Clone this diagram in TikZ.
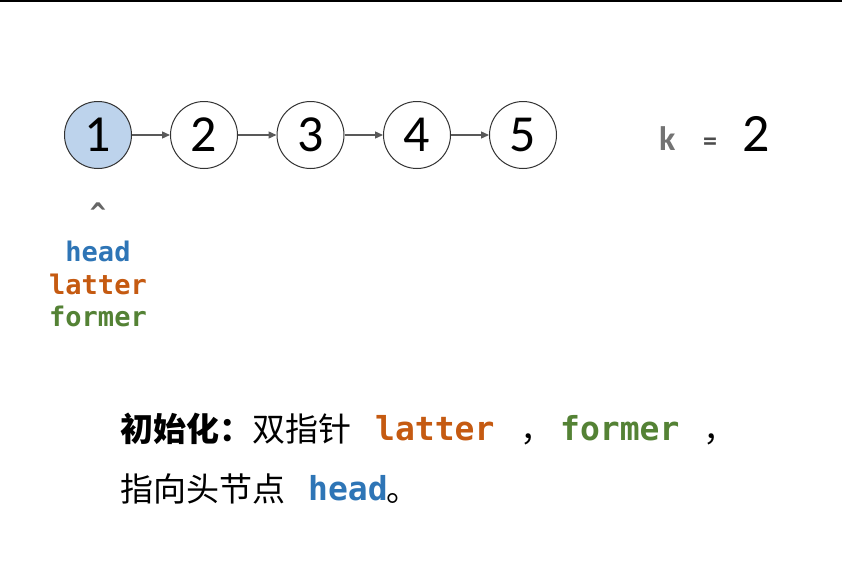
\documentclass[tikz,border=0pt]{standalone}
\usepackage{fontspec}
\setmainfont{Carlito}
\newfontfamily\cjk{Noto Sans CJK SC}
\newfontfamily\monob{DejaVu Sans Mono}
\usetikzlibrary{arrows.meta}
\definecolor{hblue}{HTML}{2E75B6}
\definecolor{lorange}{HTML}{C55A11}
\definecolor{fgreen}{HTML}{548235}
\definecolor{nodefill}{HTML}{BDD3EC}
\definecolor{edgegray}{HTML}{595959}
\tikzset{
  lnode/.style={circle, draw=black!80, line width=1pt, minimum size=67pt, inner sep=0pt, font=\fontsize{52}{52}\selectfont},
  link/.style={draw=edgegray, line width=1.3pt, -{Triangle[length=8pt,width=7pt]}},
  lbl/.style={inner sep=0pt, anchor=base},
  txt/.style={inner sep=0pt, anchor=base west},
  cn/.style={txt, font=\cjk\fontsize{33}{33}\selectfont},
  mono/.style={font=\monob\bfseries\fontsize{27}{27}\selectfont},
  monobig/.style={txt, font=\monob\bfseries\fontsize{33}{33}\selectfont}
}
\begin{document}
\begin{tikzpicture}[x=1pt,y=-1pt]
\useasboundingbox (0,0) rectangle (842,560);
\fill[white] (0,0) rectangle (842,560);
\draw[line width=2pt] (0,1) -- (842,1);
\node[lnode, fill=nodefill] (n1) at (98,135) {1};
\node[lnode] (n2) at (204,135) {2};
\node[lnode] (n3) at (310.5,135) {3};
\node[lnode] (n4) at (417,135) {4};
\node[lnode] (n5) at (523,135) {5};
\draw[link] (n1) -- (n2);
\draw[link] (n2) -- (n3);
\draw[link] (n3) -- (n4);
\draw[link] (n4) -- (n5);
\node[txt, text=black!55, font=\bfseries\fontsize{34}{34}\selectfont] (k) at (659,150) {k};
\node[txt, text=black!70, font=\bfseries\fontsize{28}{28}\selectfont] (eq) at (703,150) {=};
\node[txt, font=\fontsize{54}{54}\selectfont] (kv) at (742,151) {2};
\node[lbl, text=black!60, mono] (caret) at (98,222) {\textasciicircum};
\node[lbl, text=hblue, mono] (head) at (98,261) {head};
\node[lbl, text=lorange, mono] (latter) at (98,294) {latter};
\node[lbl, text=fgreen, mono] (former) at (98,326) {former};
\node[cn] (l1a) at (120,441) {\textbf{初始化：}双指针};
\node[monobig, text=lorange] (l1b) at (375,440) {latter};
\node[cn] (l1c) at (520,441) {，};
\node[monobig, text=fgreen] (l1d) at (560,440) {former};
\node[cn] (l1e) at (703,441) {，};
\node[cn] (l2a) at (120,501) {指向头节点};
\node[monobig, text=hblue] (l2b) at (308,500) {head};
\node[cn] (l2c) at (386,501) {。};
\end{tikzpicture}
\end{document}
